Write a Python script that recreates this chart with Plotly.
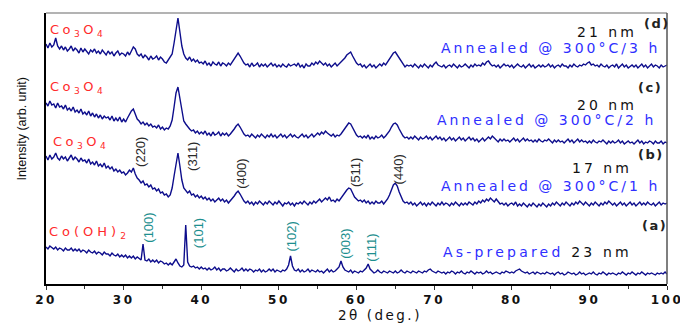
import plotly.graph_objects as go

# 2-theta sampling grid (deg), 0.25 deg steps from 20 to 100
two_theta = [20 + 0.25 * i for i in range(321)]

# (d) Co3O4 annealed 300 C / 3 h  (arb. units, offset stacked)
series_d = [
    240, 236, 241, 237, 239, 246, 238, 235, 238, 234, 237, 233, 235, 238, 233, 236,
    234, 231, 236, 232, 235, 233, 230, 234, 232, 235, 231, 233, 230, 234, 231, 229,
    233, 230, 232, 228, 231, 233, 229, 231, 230, 228, 232, 229, 233, 237, 235, 230,
    228, 230, 226, 229, 227, 224, 228, 225, 226, 228, 224, 227, 225, 222, 221, 224,
    226, 230, 241, 256, 266, 252, 238, 230, 226, 224, 227, 223, 225, 222, 224, 221,
    222, 220, 223, 219, 221, 218, 222, 220, 219, 222, 218, 221, 220, 218, 221, 219,
    222, 225, 229, 231, 228, 224, 221, 219, 220, 217, 221, 218, 219, 221, 217, 220,
    218, 220, 217, 219, 221, 218, 220, 217, 219, 217, 220, 218, 217, 220, 218, 219,
    220, 218, 221, 217, 219, 216, 220, 218, 218, 221, 219, 222, 220, 223, 221, 219,
    221, 218, 220, 217, 219, 221, 218, 220, 221, 224, 226, 229, 231, 232, 228, 224,
    221, 219, 220, 217, 219, 216, 218, 220, 217, 219, 216, 218, 220, 218, 221, 219,
    222, 225, 228, 231, 232, 229, 226, 222, 220, 217, 219, 218, 219, 217, 220, 218,
    216, 219, 217, 220, 218, 216, 219, 217, 220, 222, 219, 218, 217, 219, 216, 218,
    219, 217, 220, 218, 216, 219, 217, 218, 220, 218, 216, 219, 217, 220, 218, 219,
    218, 221, 219, 222, 223, 220, 218, 219, 217, 219, 216, 218, 220, 218, 219, 217,
    219, 216, 218, 220, 218, 217, 219, 216, 218, 220, 217, 219, 216, 218, 219, 217,
    219, 217, 218, 220, 217, 219, 216, 218, 219, 217, 220, 218, 218, 216, 219, 217,
    220, 218, 217, 219, 218, 220, 219, 221, 222, 219, 220, 218, 219, 217, 220, 218,
    217, 219, 216, 218, 219, 217, 220, 216, 218, 220, 217, 219, 216, 218, 219, 217,
    219, 216, 218, 220, 217, 219, 216, 218, 220, 217, 219, 218, 216, 219, 217, 218,
    219,
]

# (c) Co3O4 annealed 300 C / 2 h
series_c = [
    181, 178, 183, 179, 180, 176, 181, 177, 178, 175, 179, 174, 176, 173, 177, 172,
    174, 171, 175, 170, 172, 169, 173, 168, 171, 167, 170, 166, 169, 165, 168, 166,
    167, 164, 168, 163, 166, 163, 167, 162, 165, 162, 166, 170, 173, 175, 169, 165,
    163, 160, 162, 159, 161, 158, 160, 157, 158, 156, 159, 155, 157, 154, 156, 155,
    158, 164, 177, 191, 197, 186, 171, 163, 160, 157, 155, 153, 154, 151, 153, 150,
    152, 150, 153, 149, 151, 148, 152, 149, 150, 152, 148, 151, 149, 151, 148, 150,
    152, 155, 158, 160, 157, 153, 150, 148, 149, 147, 150, 148, 146, 149, 147, 150,
    148, 146, 149, 147, 150, 147, 149, 146, 148, 150, 147, 149, 146, 148, 150, 147,
    149, 147, 146, 148, 150, 147, 149, 146, 148, 150, 147, 149, 151, 149, 152, 150,
    153, 151, 149, 148, 150, 147, 149, 148, 150, 153, 156, 159, 161, 160, 156, 152,
    149, 147, 148, 146, 148, 146, 149, 145, 147, 145, 148, 146, 147, 149, 146, 148,
    150, 153, 157, 160, 161, 159, 155, 151, 148, 146, 147, 145, 147, 145, 148, 146,
    144, 147, 145, 146, 148, 145, 147, 144, 146, 148, 145, 147, 144, 146, 143, 145,
    147, 144, 146, 143, 145, 147, 144, 146, 143, 145, 147, 144, 146, 143, 145, 142,
    144, 146, 143, 145, 147, 145, 148, 146, 144, 142, 145, 143, 145, 143, 144, 142,
    144, 146, 143, 145, 142, 144, 146, 143, 145, 143, 144, 142, 144, 142, 145, 143,
    142, 144, 143, 145, 143, 141, 144, 142, 144, 142, 143, 141, 143, 145, 142, 144,
    141, 143, 145, 142, 144, 142, 143, 141, 143, 141, 144, 142, 141, 143, 142, 144,
    142, 140, 143, 141, 143, 141, 142, 144, 141, 143, 140, 142, 143, 141, 142, 140,
    142, 144, 141, 143, 140, 142, 141, 143, 142, 140, 143, 141, 141, 143, 140, 142,
    141,
]

# (b) Co3O4 annealed 300 C / 1 h
series_b = [
    128, 124, 129, 125, 127, 131, 126, 124, 128, 125, 127, 123, 126, 129, 124, 127,
    125, 122, 126, 123, 124, 121, 125, 120, 122, 119, 123, 118, 120, 117, 121, 116,
    118, 115, 117, 113, 115, 112, 114, 111, 112, 109, 111, 114, 112, 116, 110, 106,
    104, 101, 103, 99, 100, 97, 99, 95, 96, 93, 95, 91, 92, 89, 90, 87,
    89, 96, 108, 122, 131, 118, 104, 96, 94, 91, 93, 89, 90, 87, 89, 86,
    88, 85, 87, 84, 86, 83, 85, 82, 84, 86, 83, 85, 82, 84, 81, 83,
    85, 88, 91, 93, 90, 86, 83, 81, 83, 80, 82, 79, 82, 80, 83, 81,
    79, 82, 80, 83, 81, 79, 82, 80, 83, 80, 78, 81, 80, 82, 79, 81,
    78, 81, 80, 82, 80, 83, 81, 79, 82, 80, 83, 81, 83, 85, 82, 84,
    86, 84, 87, 83, 84, 82, 85, 83, 86, 88, 91, 94, 96, 95, 91, 87,
    85, 83, 84, 82, 84, 81, 83, 80, 82, 80, 83, 81, 81, 83, 80, 82,
    85, 89, 94, 99, 101, 98, 92, 87, 83, 81, 82, 80, 82, 79, 81, 78,
    80, 82, 79, 81, 78, 81, 79, 82, 80, 78, 81, 79, 82, 79, 81, 80,
    78, 81, 79, 82, 80, 78, 81, 79, 81, 79, 82, 80, 79, 82, 80, 83,
    81, 84, 82, 85, 83, 86, 84, 82, 85, 82, 80, 81, 79, 81, 78, 80,
    81, 79, 82, 78, 80, 78, 81, 79, 77, 80, 78, 81, 79, 77, 80, 78,
    81, 79, 77, 80, 78, 81, 79, 82, 80, 78, 81, 79, 82, 80, 78, 81,
    79, 82, 80, 83, 81, 79, 82, 80, 78, 81, 79, 82, 80, 78, 81, 79,
    82, 80, 83, 81, 79, 81, 78, 80, 82, 79, 81, 78, 80, 82, 79, 81,
    78, 80, 82, 79, 81, 79, 82, 80, 79, 81, 78, 80, 82, 79, 81, 80,
    81,
]

# (a) Co(OH)2 as-prepared
series_a = [
    37, 35, 38, 36, 35, 37, 34, 36, 35, 33, 36, 34, 34, 36, 33, 35,
    33, 35, 32, 34, 33, 31, 34, 32, 31, 33, 30, 32, 31, 29, 32, 30,
    30, 28, 31, 29, 28, 30, 27, 29, 27, 29, 26, 28, 26, 28, 25, 27,
    25, 24, 40, 24, 23, 25, 22, 24, 22, 24, 21, 23, 22, 20, 21, 19,
    21, 19, 22, 25, 21, 18, 17, 19, 59, 22, 18, 17, 18, 16, 17, 15,
    17, 15, 16, 14, 16, 14, 15, 17, 14, 16, 13, 15, 15, 13, 14, 16,
    14, 12, 15, 13, 14, 16, 13, 15, 13, 15, 14, 12, 14, 13, 15, 12,
    14, 12, 13, 15, 13, 15, 12, 14, 13, 12, 14, 13, 15, 19, 28, 18,
    14, 13, 15, 12, 14, 12, 13, 15, 12, 14, 13, 12, 14, 12, 13, 11,
    13, 15, 12, 14, 12, 13, 15, 17, 23, 17, 14, 13, 12, 14, 11, 13,
    12, 11, 13, 12, 14, 16, 20, 15, 13, 11, 12, 14, 12, 11, 13, 12,
    11, 13, 12, 11, 13, 11, 12, 14, 12, 11, 13, 12, 11, 13, 12, 11,
    13, 12, 11, 13, 12, 14, 15, 13, 12, 11, 13, 12, 11, 12, 10, 12,
    11, 13, 12, 10, 12, 11, 13, 11, 10, 12, 11, 13, 11, 10, 12, 11,
    12, 10, 11, 13, 11, 12, 10, 11, 12, 11, 10, 12, 11, 13, 12, 11,
    12, 11, 13, 14, 15, 13, 12, 11, 12, 10, 11, 12, 10, 12, 11, 10,
    11, 10, 12, 11, 10, 11, 9, 11, 12, 10, 11, 9, 10, 12, 11, 10,
    11, 9, 10, 12, 10, 11, 9, 10, 11, 10, 12, 10, 9, 11, 10, 12,
    10, 9, 11, 10, 11, 10, 9, 11, 10, 12, 10, 9, 11, 10, 12, 10,
    9, 11, 10, 12, 10, 9, 11, 10, 11, 10, 9, 11, 10, 11, 10, 12,
    10,
]

x_tick_values = [20, 30, 40, 50, 60, 70, 80, 90, 100]
x_tick_labels = ["20", "30", "40", "50", "60", "70", "80", "90", "100"]

# phase labels (left), sample labels (right)
phase_labels = ["Co<sub>3</sub>O<sub>4</sub>", "Co<sub>3</sub>O<sub>4</sub>",
                "Co<sub>3</sub>O<sub>4</sub>", "Co(OH)<sub>2</sub>"]
phase_pos = [(20.25, 254), (20.2, 197), (20.7, 142), (20.1, 52)]

letter_labels = ["(d)", "(c)", "(b)", "(a)"]
letter_pos = [(98.7, 261), (97.8, 197), (98.0, 130), (98.4, 59)]

size_labels = ["21 nm", "20 nm", "17 nm"]
size_pos = [(96.4, 252), (96.4, 179), (95.8, 116)]

anneal_labels = ["Annealed @ 300°C/3 h", "Annealed @ 300°C/2 h", "Annealed @ 300°C/1 h"]
anneal_pos = [(99.4, 236), (98.8, 164), (99.3, 98)]

spinel_hkl = ["(220)", "(311)", "(400)", "(511)", "(440)"]
spinel_pos = [(32.1, 132), (38.8, 128), (45.1, 110), (59.8, 112), (65.4, 115)]

hydroxide_hkl = ["(100)", "(101)", "(102)", "(003)", "(111)"]
hydroxide_pos = [(33.1, 56), (39.6, 51), (51.5, 47), (58.5, 40), (61.85, 36)]

LINE = "#0d0d8c"
RED = "#ff2b2b"
BLUE = "#2f2fff"
TEAL = "#1e8f8f"
FONT = "DejaVu Sans"


def spaced(t, px):
    return '<span style="letter-spacing:%spx">%s</span>' % (px, t)


fig = go.Figure()
for ys in (series_a, series_b, series_c, series_d):
    fig.add_trace(go.Scatter(x=two_theta, y=ys, mode="lines",
                             line=dict(color=LINE, width=1.4), showlegend=False,
                             hoverinfo="skip"))

ann = []
for i, (t, (x, y)) in enumerate(zip(phase_labels, phase_pos)):
    ann.append(dict(x=x, y=y, text=spaced(t, 4 if i == 3 else 3.5),
                    xanchor="left", yanchor="middle",
                    font=dict(family=FONT, size=13, color=RED)))
for t, (x, y) in zip(letter_labels, letter_pos):
    ann.append(dict(x=x, y=y, text=spaced(t, 1.5), xanchor="center", yanchor="middle",
                    font=dict(family=FONT, size=13, color="#222222", weight="bold")))
for t, (x, y) in zip(size_labels, size_pos):
    ann.append(dict(x=x, y=y, text=spaced(t, 3), xanchor="right", yanchor="middle",
                    font=dict(family=FONT, size=14, color="#111111")))
for t, (x, y) in zip(anneal_labels, anneal_pos):
    ann.append(dict(x=x, y=y, text=spaced(t, 3), xanchor="right", yanchor="middle",
                    font=dict(family=FONT, size=14, color=BLUE)))
ann.append(dict(x=95.8, y=32,
                text=spaced('<span style="color:%s">As-prepared</span> 23 nm' % BLUE, 3.2),
                xanchor="right", yanchor="middle",
                font=dict(family=FONT, size=14, color="#111111")))
for t, (x, y) in zip(spinel_hkl, spinel_pos):
    ann.append(dict(x=x, y=y, text=t, textangle=-90, xanchor="center", yanchor="middle",
                    font=dict(family="Liberation Sans", size=13, color="#2a2a2a")))
for t, (x, y) in zip(hydroxide_hkl, hydroxide_pos):
    ann.append(dict(x=x, y=y, text=t, textangle=-90, xanchor="center", yanchor="middle",
                    font=dict(family="Liberation Sans", size=13, color=TEAL)))
for a in ann:
    a.update(showarrow=False, xref="x", yref="y")

# axis titles
ann.append(dict(x=0.538, y=-0.116, xref="paper", yref="paper", showarrow=False,
                text=spaced("2θ (deg.)", 2.5), xanchor="center", yanchor="middle",
                font=dict(family=FONT, size=13.5, color="#111111")))
ann.append(dict(x=-0.038, y=0.575, xref="paper", yref="paper", showarrow=False,
                text="Intensity (arb. unit)", textangle=-90, xanchor="center",
                yanchor="middle",
                font=dict(family="Liberation Sans", size=12.5, color="#111111")))

# the page body adds an 8 px offset; the figure is sized to fit inside the window
fig.update_layout(
    width=680, height=316,
    margin=dict(l=38, r=16, t=5, b=40),
    paper_bgcolor="white", plot_bgcolor="white",
    annotations=ann,
    shapes=[
        dict(type="line", xref="paper", yref="paper", x0=0, x1=1, y0=1, y1=1,
             line=dict(color="#9a9a9a", width=1.5)),
        dict(type="line", xref="paper", yref="paper", x0=1, x1=1, y0=0, y1=1,
             line=dict(color="#555555", width=1.5)),
    ],
    xaxis=dict(range=[20, 100], showgrid=False, zeroline=False,
               showline=True, linecolor="black", linewidth=1.5,
               ticks="outside", ticklen=4, tickwidth=1, tickcolor="#333333",
               tickvals=x_tick_values,
               ticktext=[spaced(t, 2.5) for t in x_tick_labels],
               ticklabeloverflow="allow",
               tickfont=dict(family=FONT, size=12, color="#111111", weight="bold"),
               minor=dict(dtick=5, ticks="outside", ticklen=3, tickcolor="#333333"),
               ),
    yaxis=dict(range=[0, 271], showgrid=False, zeroline=False, showticklabels=False,
               showline=True, linecolor="black", linewidth=1.5, ticks=""),
)

fig.write_html("out.html")
